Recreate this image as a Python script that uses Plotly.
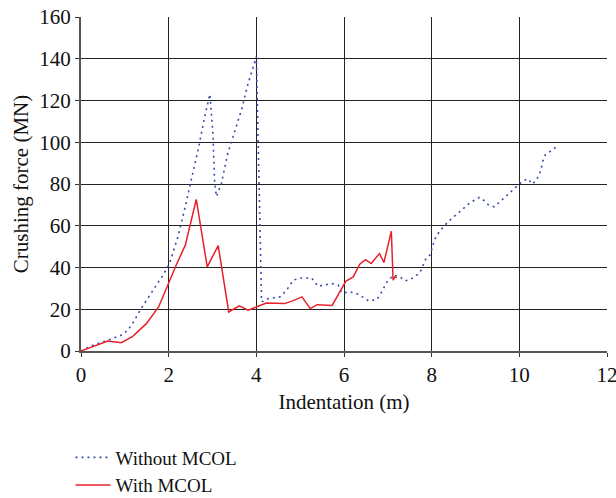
import plotly.graph_objects as go

# Without MCOL (blue dotted)
x_without = [0, 0.30, 0.61, 0.91, 1.07, 1.22, 1.37, 1.60, 1.87, 2.02, 2.21, 2.36, 2.52, 2.67, 2.82, 2.94,
             3.01, 3.05, 3.09, 3.20, 3.35, 3.51, 3.66, 3.81, 4.00, 4.12, 4.27, 4.54, 4.69, 4.84, 5.00,
             5.26, 5.41, 5.72, 5.87, 5.95, 6.14, 6.33, 6.56, 6.75, 6.86, 6.98, 7.13, 7.28, 7.40, 7.52,
             7.63, 7.74, 7.86, 7.97, 8.05, 8.11, 8.20, 8.29, 8.40, 8.50, 8.61, 8.73, 8.84, 8.96, 9.09,
             9.20, 9.30, 9.43, 9.54, 9.65, 9.77, 9.87, 9.98, 10.08, 10.20, 10.29, 10.38, 10.46, 10.50,
             10.53, 10.59, 10.71, 10.85]
y_without = [0, 3.0, 5.1, 7.5, 9.9, 14.7, 20.3, 27.5, 36.3, 41.9, 54.7, 67.5, 81.9, 96.3, 112, 123,
             104, 80, 74, 80, 94.7, 105.8, 115.4, 128, 141, 23.5, 25.1, 25.9, 29.1, 33.9, 35,
             35, 31, 32.3, 31.5, 27.8, 28.3, 27.2, 24, 24.6, 28.3, 33.1, 36.3, 35.5, 33.6, 34.4,
             35.8, 37.9, 43.8, 46.2, 52.3, 55.3, 57.9, 60.1, 62.4, 64.3, 66.2, 68.3, 70.4, 72.1, 73.6,
             72, 69.9, 69.1, 71.2, 73.1, 75.2, 77.1, 79.3, 81.5, 82.5, 80, 81.5, 84.7, 87.5,
             90.7, 93.9, 95.8, 97.8]

# With MCOL (red solid)
x_with = [0, 0.30, 0.61, 0.92, 1.18, 1.49, 1.77, 1.98, 2.17, 2.38, 2.63, 2.88, 3.13, 3.37, 3.61, 3.81,
          4.00, 4.23, 4.64, 4.83, 5.04, 5.23, 5.39, 5.73, 6.04, 6.21, 6.36, 6.49, 6.62, 6.81, 6.91,
          7.08, 7.12, 7.16, 7.20]
y_with = [0, 2.3, 4.8, 4.0, 7.0, 13.1, 21.1, 31.5, 41.1, 50.7, 72.6, 40.3, 50.5, 18.7, 21.6, 19.5,
          21.1, 23.0, 22.7, 24.0, 25.9, 20.3, 22.2, 21.8, 33.4, 35.5, 41.6, 43.8, 41.9, 46.7, 42.4,
          57.4, 33.9, 35.5, 35.0]

x_ticks = [0, 2, 4, 6, 8, 10, 12]
y_ticks = [0, 20, 40, 60, 80, 100, 120, 140, 160]

FONT = "Liberation Serif, Times New Roman, serif"
FS = 21

fig = go.Figure()
fig.add_trace(go.Scatter(x=x_without, y=y_without, mode="lines", name="Without MCOL",
                         line=dict(color="#3a4ea8", width=1.6, dash="2px,4px")))
fig.add_trace(go.Scatter(x=x_with, y=y_with, mode="lines", name="With MCOL",
                         line=dict(color="#e8202a", width=1.5)))

axis_common = dict(showgrid=True, gridcolor="#222222", gridwidth=1, showline=True,
                   linecolor="#555555", linewidth=2, ticks="outside", ticklen=4,
                   tickcolor="#333333", zeroline=False, ticklabeloverflow="allow",
                   tickfont=dict(family=FONT, size=FS, color="#111"),
                   title_font=dict(family=FONT, size=FS, color="#111"))

fig.update_xaxes(range=[0, 12], tickvals=x_ticks, title_text="Indentation (m)",
                 title_standoff=8, **axis_common)
fig.update_yaxes(range=[0, 160], tickvals=y_ticks, title_text="Crushing force (MN)",
                 title_standoff=5, **axis_common)

fig.update_layout(
    width=616, height=498,
    margin=dict(l=81, r=9, t=17, b=147, autoexpand=False),
    plot_bgcolor="white", paper_bgcolor="white",
    font=dict(family=FONT, size=FS, color="#111"),
    legend=dict(x=-0.02, y=-0.262, xanchor="left", yanchor="top", itemwidth=35,
                font=dict(family=FONT, size=19, color="#111"),
                bgcolor="rgba(0,0,0,0)", tracegroupgap=0),
    showlegend=True,
)

fig.write_html("out.html")
